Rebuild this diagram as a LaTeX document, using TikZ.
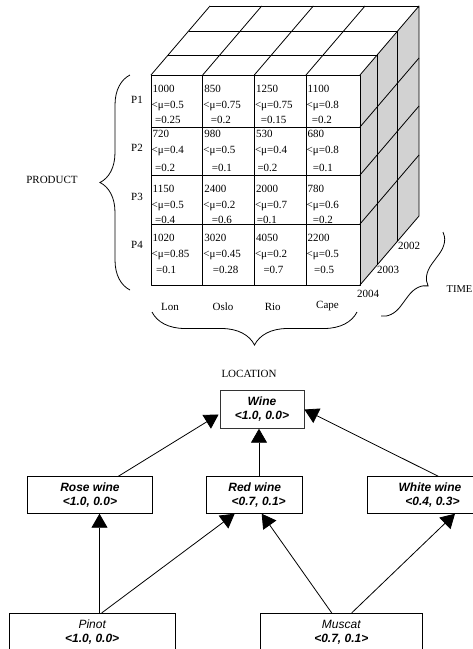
\documentclass[tikz,border=0pt]{standalone}
\usepackage{fontspec}
\setmainfont{Liberation Serif}
\newfontfamily\graphfont{Liberation Sans}
\usetikzlibrary{arrows.meta,decorations.pathreplacing,calc}

% one cell of the data cube: value, membership and non-membership lines
\newcommand\cubecell[8]{%
  \node[celltxt] (#1a) at (#2+1.5,#3) {#6};
  \node[celltxt] (#1b) at (#2+0.5,#3+16) {<μ=#7};
  \node[celltxt] (#1c) at (#2+#5,#4) {=#8};
}

\begin{document}
\begin{tikzpicture}[x=1pt,y=-1pt,
  cubeline/.style={line width=0.8pt,line join=round},
  celltxt/.style={font=\fontsize{11}{13}\selectfont,anchor=base west,inner sep=0pt},
  lbl/.style={font=\fontsize{11}{13}\selectfont,inner sep=0pt},
  bracedeco/.style={decorate,decoration={brace,amplitude=#1},line width=0.8pt},
  gbox/.style={draw,line width=0.8pt,align=center,inner sep=0pt,
    font=\graphfont\bfseries\itshape\fontsize{12}{14}\selectfont},
  isa/.style={-{Triangle[length=14pt,width=16pt]},line width=0.8pt},
]
\useasboundingbox (0,0) rectangle (473,649);

% ---------------- data cube ----------------
% right (time) face
\fill[gray!35] (360,75) -- (419,6) -- (419,216) -- (360,285) -- cycle;
\foreach \dx/\dy in {17/20,37.6/44}
  \draw[cubeline] (360+\dx,75-\dy) -- (360+\dx,285-\dy);
\foreach \y in {127,175,224}
  \draw[cubeline] (360,\y) -- (419,\y-69);
\draw[cubeline] (360,75) -- (419,6) -- (419,216) -- (360,285);
% top face
\foreach \x in {151,202.7,254.3,306}
  \draw[cubeline] (\x,75) -- (\x+59,6);
\foreach \dx/\dy in {17/20,37.6/44,59/69}
  \draw[cubeline] (151+\dx,75-\dy) -- (360+\dx,75-\dy);
% front face grid
\draw[cubeline] (151,75) rectangle (360,285);
\foreach \x in {202.7,254.3,306}
  \draw[cubeline] (\x,75) -- (\x,285);
\foreach \y in {127,175,224}
  \draw[cubeline] (151,\y) -- (360,\y);

% cell contents
\cubecell{c11}{151}{92}{123}{4}{1000}{0.5}{0.25}
\cubecell{c12}{202.7}{92}{123}{8}{850}{0.75}{0.2}
\cubecell{c13}{254.3}{92}{123}{6.4}{1250}{0.75}{0.15}
\cubecell{c14}{306}{92}{123}{5.7}{1100}{0.8}{0.2}
\cubecell{c21}{151}{137}{171}{4}{720}{0.4}{0.2}
\cubecell{c22}{202.7}{137}{171}{9}{980}{0.5}{0.1}
\cubecell{c23}{254.3}{137}{171}{3}{530}{0.4}{0.2}
\cubecell{c24}{306}{137}{171}{6.7}{680}{0.8}{0.1}
\cubecell{c31}{151}{192}{223}{4}{1150}{0.5}{0.4}
\cubecell{c32}{202.7}{192}{223}{9}{2400}{0.2}{0.6}
\cubecell{c33}{254.3}{192}{223}{2.4}{2000}{0.7}{0.1}
\cubecell{c34}{306}{192}{223}{6.7}{780}{0.6}{0.2}
\cubecell{c41}{151}{241.5}{273}{5}{1020}{0.85}{0.1}
\cubecell{c42}{202.7}{241.5}{273}{10}{3020}{0.45}{0.28}
\cubecell{c43}{254.3}{241.5}{273}{9}{4050}{0.2}{0.7}
\cubecell{c44}{306}{241.5}{273}{8}{2200}{0.5}{0.5}

% product axis
\node[lbl] (p1) at (137,100) {P1};
\node[lbl] (p2) at (137,148) {P2};
\node[lbl] (p3) at (137,197) {P3};
\node[lbl] (p4) at (137,245) {P4};
\draw[bracedeco=30] (130,290) -- (130,75);
\node[lbl] (product) at (52,180) {PRODUCT};

% location axis
\node[lbl] (lon) at (170,306.5) {Lon};
\node[lbl] (oslo) at (223,306.5) {Oslo};
\node[lbl] (rio) at (272.7,306.5) {Rio};
\node[lbl] (cape) at (327.5,306.5) {Cape};
\draw[bracedeco=33] (357,312) -- (152,312);
\node[lbl] (location) at (249,374) {LOCATION};

% time axis
\node[lbl] (y2004) at (368,294) {2004};
\node[lbl] (y2003) at (388,270) {2003};
\node[lbl] (y2002) at (409,246) {2002};
\draw[bracedeco=20] (443,232) -- (381,316);
\node[lbl,anchor=west,font=\fontsize{10.5}{13}\selectfont] (time) at (446.5,289) {TIME};

% ---------------- wine hierarchy ----------------
\node[gbox,draw=black!80,minimum width=84pt,minimum height=37.6pt] (wine) at (262,409.5)
  {Wine\\<1.0, 0.0>};
\node[gbox,minimum width=125.4pt,minimum height=36.6pt] (rose) at (90,495)
  {Rose wine\\<1.0, 0.0>};
\node[gbox,minimum width=96pt,minimum height=36.6pt] (red) at (254.7,495)
  {Red wine\\\hspace*{8pt}<0.7, 0.1>};
\node[gbox,minimum width=125.4pt,minimum height=36.6pt] (white) at (430,495)
  {White wine\\\hspace*{5pt}<0.4, 0.3>};
\node[gbox,minimum width=165.7pt,minimum height=37.4pt] (pinot) at (92.2,632)
  {\mdseries Pinot\\<1.0, 0.0>};
\node[gbox,minimum width=162.7pt,minimum height=37.4pt] (muscat) at (341.3,632)
  {\mdseries Muscat\\<0.7, 0.1>};

\draw[isa] ($(rose.north)+(28.3,0)$) -- ($(wine.west)+(-1,5)$);
\draw[isa] ($(red.north)+(4.3,0)$) -- ($(wine.south)+(-3,0)$);
\draw[isa] ($(white.north)+(8.3,0)$) -- (wine.east);
\draw[isa] ($(pinot.north)+(7.3,0)$) -- ($(rose.south)+(9.5,0)$);
\draw[isa] ($(pinot.north)+(9.5,0)$) -- ($(red.south)+(-20,0)$);
\draw[isa] ($(muscat.north)+(-9.6,0)$) -- ($(red.south)+(7,0)$);
\draw[isa] ($(muscat.north)+(10.4,0)$) -- ($(white.south)+(25,0)$);
\end{tikzpicture}
\end{document}
